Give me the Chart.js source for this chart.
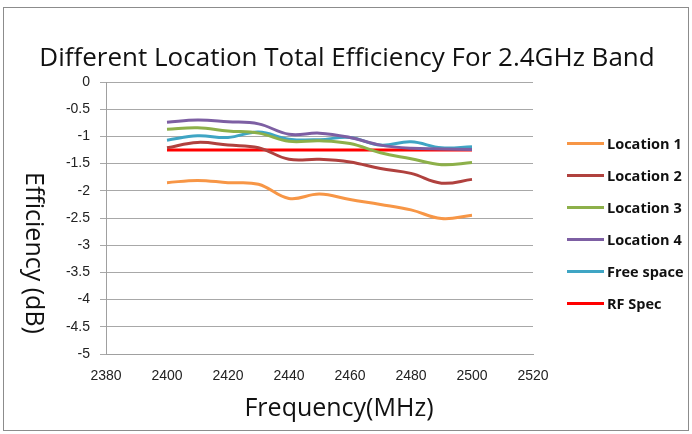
<!DOCTYPE html>
<html lang="en">
<head>
<meta charset="UTF-8">
<title>Different Location Total Efficiency For 2.4GHz Band</title>
<script src="https://cdn.jsdelivr.net/npm/chart.js"></script>
<style>
    body {
        margin: 0;
        background: #fff;
        font-family: "Open Sans", Arial, sans-serif;
    }
    .frame {
        position: absolute;
        left: 3px;
        top: 7px;
        width: 686px;
        height: 424px;
        border: 1px solid #8c8c8c;
        box-sizing: border-box;
    }
    .wrap {
        position: absolute;
        left: 0;
        top: 0;
        width: 692px;
        height: 434px;
    }
    .title {
        position: absolute;
        left: 0;
        top: 40px;
        width: 694px;
        text-align: center;
        font-size: 26px;
        line-height: 32px;
        color: #111;
    }
    .xtitle {
        position: absolute;
        left: 239px;
        top: 390px;
        width: 200px;
        text-align: center;
        font-size: 25px;
        line-height: 32px;
        color: #111;
    }
    .ytitle {
        position: absolute;
        left: 36px;
        top: 253px;
        width: 240px;
        margin-left: -120px;
        margin-top: -16px;
        text-align: center;
        font-size: 25px;
        line-height: 32px;
        color: #111;
        transform: rotate(90deg);
    }
    .legend {
        position: absolute;
        left: 567px;
        top: 127px;
        list-style: none;
        margin: 0;
        padding: 0;
    }
    .legend li {
        height: 32px;
        display: flex;
        align-items: center;
        font-weight: bold;
        font-size: 14.5px;
        color: #111;
    }
    .legend span {
        display: inline-block;
        width: 37px;
        height: 3px;
        margin-right: 3px;
    }
</style>
</head>
<body>
<div class="frame"></div>
<div class="wrap"><canvas id="chart" width="692" height="434"></canvas></div>
<div class="title">Different Location Total Efficiency For 2.4GHz Band</div>
<div class="xtitle">Frequency(MHz)</div>
<div class="ytitle">Efficiency (dB)</div>
<ul id="legend" class="legend"></ul>

<script>
// frequencies (MHz)
const freqs = [2400, 2410, 2420, 2430, 2440, 2450, 2460, 2470, 2480, 2490, 2500];

const location1 = [-1.85, -1.81, -1.85, -1.88, -2.14, -2.06, -2.16, -2.25, -2.35, -2.51, -2.45];
const location2 = [-1.21, -1.11, -1.16, -1.21, -1.42, -1.42, -1.47, -1.59, -1.68, -1.86, -1.79];
const location3 = [-0.87, -0.84, -0.90, -0.94, -1.09, -1.08, -1.13, -1.30, -1.41, -1.52, -1.48];
const location4 = [-0.74, -0.70, -0.73, -0.77, -0.96, -0.94, -1.02, -1.16, -1.22, -1.23, -1.24];
const freeSpace = [-1.07, -0.99, -1.02, -0.92, -1.05, -1.06, -1.02, -1.16, -1.10, -1.21, -1.19];
const rfSpec    = [-1.25, -1.25, -1.25, -1.25, -1.25, -1.25, -1.25, -1.25, -1.25, -1.25, -1.25];

const seriesNames = ['Location 1', 'Location 2', 'Location 3', 'Location 4', 'Free space', 'RF Spec'];
const seriesData = [location1, location2, location3, location4, freeSpace, rfSpec];
const seriesColors = ['#F79646', '#B0413E', '#8DB04A', '#7D5FA3', '#3FA5C4', '#FF0000'];

const datasets = seriesNames.map((name, i) => ({
    label: name,
    data: freqs.map((f, j) => ({ x: f, y: seriesData[i][j] })),
    borderColor: seriesColors[i],
    backgroundColor: seriesColors[i],
    borderWidth: 3,
    pointRadius: 0,
    tension: i === 5 ? 0 : 0.4,
    fill: false
}));

// legend
const legend = document.getElementById('legend');
seriesNames.forEach((name, i) => {
    const li = document.createElement('li');
    li.innerHTML = '<span style="background:' + seriesColors[i] + '"></span>' + name;
    legend.appendChild(li);
});

const ctx = document.getElementById('chart').getContext('2d');
new Chart(ctx, {
    type: 'line',
    data: { datasets: datasets },
    options: {
        responsive: false,
        animation: false,
        layout: { padding: { left: 20, right: 159, top: 82, bottom: 8 } },
        plugins: {
            legend: { display: false },
            tooltip: { enabled: false }
        },
        scales: {
            x: {
                type: 'linear',
                min: 2380,
                max: 2520,
                ticks: {
                    stepSize: 20, color: '#222', font: { size: 14 }, padding: 14,
                    callback: v => String(v)
                },
                grid: { display: false, drawTicks: false },
                border: { color: '#a0a0a0' },
                afterFit: s => { s.height = 72; }
            },
            y: {
                min: -5,
                max: 0,
                ticks: {
                    stepSize: 0.5, color: '#222', font: { size: 14 }, padding: 10,
                    callback: v => String(v)
                },
                grid: { color: '#a8a8a8', tickLength: 6, lineWidth: 1 },
                border: { color: '#a0a0a0' },
                afterFit: s => { s.width = 86; }
            }
        }
    }
});
</script>
</body>
</html>
